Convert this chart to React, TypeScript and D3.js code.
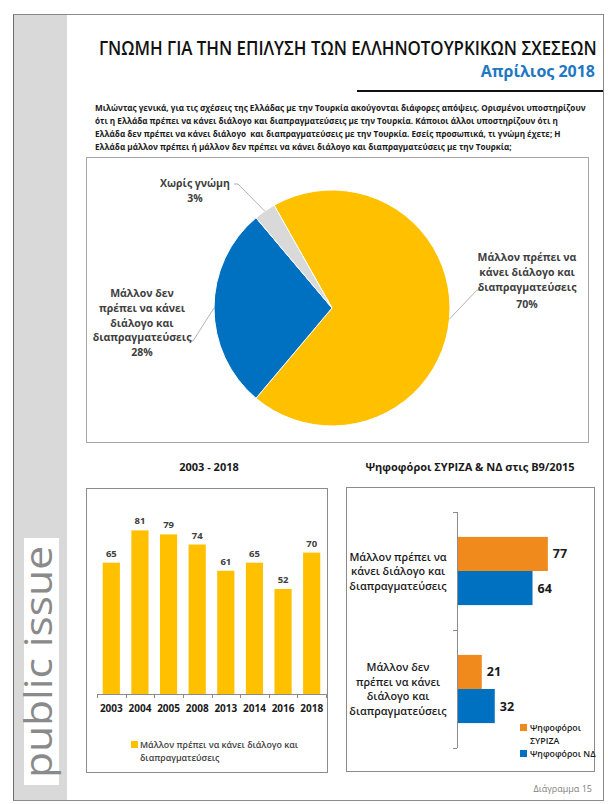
import React from 'react';
import * as d3 from 'd3';

// ---------- DATA ----------
const titleText = 'ΓΝΩΜΗ ΓΙΑ ΤΗΝ ΕΠΙΛΥΣΗ ΤΩΝ ΕΛΛΗΝΟΤΟΥΡΚΙΚΩΝ ΣΧΕΣΕΩΝ';
const subtitleText = 'Απρίλιος 2018';
const questionLines = [
  'Μιλώντας γενικά, για τις σχέσεις της Ελλάδας με την Τουρκία ακούγονται διάφορες απόψεις. Ορισμένοι υποστηρίζουν',
  'ότι η Ελλάδα πρέπει να κάνει διάλογο και διαπραγματεύσεις με την Τουρκία. Κάποιοι άλλοι υποστηρίζουν ότι η',
  'Ελλάδα δεν πρέπει να κάνει διάλογο  και διαπραγματεύσεις με την Τουρκία. Εσείς προσωπικά, τι γνώμη έχετε; Η',
  'Ελλάδα μάλλον πρέπει ή μάλλον δεν πρέπει να κάνει διάλογο και διαπραγματεύσεις με την Τουρκία;',
];

const pieCategories = ['Μάλλον πρέπει', 'Μάλλον δεν πρέπει', 'Χωρίς γνώμη'];
const pieValues = [70, 28, 3];
const pieLabelLines = [
  ['Μάλλον πρέπει να', 'κάνει διάλογο και', 'διαπραγματεύσεις'],
  ['Μάλλον δεν', 'πρέπει να κάνει', 'διάλογο και', 'διαπραγματεύσεις'],
  ['Χωρίς γνώμη'],
];
const pieColors = ['#ffc000', '#0070c0', '#d9d9d9'];

const trendTitle = '2003 - 2018';
const trendYears = ['2003', '2004', '2005', '2008', '2013', '2014', '2016', '2018'];
const trendValues = [65, 81, 79, 74, 61, 65, 52, 70];
const trendLegendLines = ['Μάλλον πρέπει να κάνει διάλογο και', 'διαπραγματεύσεις'];

const voterTitle = 'Ψηφοφόροι ΣΥΡΙΖΑ & ΝΔ στις Β9/2015';
const voterCategories = ['prepei', 'denprepei'];
const voterCategoryLines = [
  ['Μάλλον πρέπει να', 'κάνει διάλογο και', 'διαπραγματεύσεις'],
  ['Μάλλον δεν', 'πρέπει να κάνει', 'διάλογο και', 'διαπραγματεύσεις'],
];
const voterSeries = ['ΣΥΡΙΖΑ', 'ΝΔ'];
const syrizaValues = [77, 21];
const ndValues = [64, 32];
const voterLegendLines = [['Ψηφοφόροι', 'ΣΥΡΙΖΑ'], ['Ψηφοφόροι ΝΔ']];
const voterColors = ['#f08a1c', '#0070c0'];

const footerText = 'Διάγραμμα 15';
const brandText = 'public issue';

// ---------- HELPERS ----------
const FONT = "'Open Sans', 'Noto Sans', 'DejaVu Sans', sans-serif";
let _ctx: CanvasRenderingContext2D | null = null;
function measure(text: string, weight: number, size: number): number {
  try {
    if (!_ctx) _ctx = document.createElement('canvas').getContext('2d');
    if (!_ctx) return text.length * size * 0.55;
    _ctx.font = `${weight} ${size}px 'Open Sans'`;
    return _ctx.measureText(text).width;
  } catch (e) {
    return text.length * size * 0.55;
  }
}

export default function App() {
  const W = 608;
  const H = 804;

  // ---- pie ----
  const pcx = 332, pcy = 308, pr = 118;
  const start = (-29.4 * Math.PI) / 180;
  const pieGen = d3.pie<number>().sort(null).value((d) => d).startAngle(start).endAngle(start + 2 * Math.PI);
  const arcs = pieGen(pieValues);
  const arcGen = d3.arc<d3.PieArcDatum<number>>().innerRadius(0).outerRadius(pr);
  const onArc = (a: d3.PieArcDatum<number>) => {
    const m = (a.startAngle + a.endAngle) / 2;
    return [pcx + pr * Math.sin(m), pcy - pr * Math.cos(m)];
  };
  const labelFont = 10.5;
  const pieLabelPos = [
    { x: 527, y: 261, knee: [477, 290], end: [481, 290] },
    { x: 142, y: 297, knee: [193, 341], end: [188, 341] },
    { x: 195, y: 187, knee: [238, 184], end: [234, 184] },
  ];

  // ---- trend bars ----
  const xT = d3.scaleBand<string>().domain(trendYears).range([97, 326]).paddingInner(0.4).paddingOuter(0.2);
  const yT = d3.scaleLinear().domain([0, 100]).range([694, 492]);
  const stepT = xT.step();
  const tickXs = trendYears.map((y) => (xT(y) as number) - stepT * 0.2).concat([326]);

  // ---- voter bars ----
  const yV = d3.scaleBand<string>().domain(voterCategories).range([512, 748]).padding(0);
  const yS = d3.scaleBand<string>().domain(voterSeries).range([0, yV.bandwidth()]).paddingInner(0).paddingOuter(0.73);
  const xV = d3.scaleLinear().domain([0, 100]).range([457, 575]);
  const voterData = voterCategories.map((c, i) => ({ c, vals: [syrizaValues[i], ndValues[i]] }));

  // text fitting
  const qWeight = 700, qSize = 9.3;
  const qk = 491 / measure(questionLines[0], qWeight, qSize);
  const tWeight = 600, tSize = 20;
  const tk = 498 / measure(titleText, tWeight, tSize);

  const gray = '#404040';

  return (
    <svg width={W} height={H} viewBox={`0 0 ${W} ${H}`} style={{ position: 'absolute', left: 0, top: 0, fontFamily: FONT }}>
      <rect x={0} y={0} width={W} height={H} fill="#ffffff" />
      {/* page frame */}
      <rect x={13.5} y={14.5} width={590} height={786} fill="#ffffff" stroke="#8a8a8a" strokeWidth={1} />
      <rect x={14} y={15} width={53} height={785} fill="#d9d9d9" />
      <line x1={13.5} y1={14.5} x2={13.5} y2={800.5} stroke="#6e6e6e" strokeWidth={1} />
      {/* brand */}
      <rect x={24} y={538} width={35} height={247} fill="#ffffff" />
      <text
        transform="translate(52,662) rotate(-90)"
        textAnchor="middle"
        fontSize={38}
        fill="#8a8a8a"
        textLength={232}
        lengthAdjust="spacingAndGlyphs"
      >
        {brandText}
      </text>

      {/* title */}
      <g transform={`translate(99,55) scale(${tk},1)`}>
        <text x={0} y={0} fontSize={tSize} fontWeight={tWeight} fill="#111">
          {titleText}
        </text>
      </g>
      <text x={595} y={77} textAnchor="end" fontSize={16} fontWeight={700} fill="#1f78c4">
        {subtitleText}
      </text>
      <line x1={357} y1={91} x2={603} y2={91} stroke="#111" strokeWidth={2} />

      {/* question */}
      {questionLines.map((l, i) => (
        <g key={i} transform={`translate(95,${111 + i * 13}) scale(${qk},1)`}>
          <text x={0} y={0} fontSize={qSize} fontWeight={qWeight} fill="#1a1a1a" style={{ whiteSpace: 'pre' }}>
            {l}
          </text>
        </g>
      ))}

      {/* pie box */}
      <rect x={86.5} y={157.5} width={502} height={285} fill="#ffffff" stroke="#a6a6a6" strokeWidth={1} />
      <g>
        {arcs.map((a, i) => (
          <path key={i} d={arcGen(a) as string} transform={`translate(${pcx},${pcy})`} fill={pieColors[i]} stroke="#ffffff" strokeWidth={1} />
        ))}
        {arcs.map((a, i) => {
          const p = onArc(a);
          const L = pieLabelPos[i];
          return (
            <polyline
              key={'l' + i}
              points={`${p[0]},${p[1]} ${L.knee[0]},${L.knee[1]} ${L.end[0]},${L.end[1]}`}
              fill="none"
              stroke="#a0a0a0"
              strokeWidth={0.8}
            />
          );
        })}
        {pieLabelLines.map((lines, i) => {
          const L = pieLabelPos[i];
          const pct = `${pieValues[i]}%`;
          return (
            <g key={'t' + i} fontSize={labelFont} fontWeight={700} fill={gray} textAnchor="middle">
              {lines.map((ln, j) => (
                <text key={j} x={L.x} y={L.y + j * 14.8}>
                  {ln}
                </text>
              ))}
              <text x={L.x} y={L.y + lines.length * 14.8 + (i === 0 ? 3 : 0)}>{pct}</text>
            </g>
          );
        })}
      </g>

      {/* trend chart */}
      <text x={209} y={471} textAnchor="middle" fontSize={11} fontWeight={700} fill="#1a1a1a">
        {trendTitle}
      </text>
      <rect x={86.5} y={488.5} width={241} height={284} fill="#ffffff" stroke="#8c8c8c" strokeWidth={1} />
      {trendYears.map((yr, i) => (
        <g key={yr}>
          <rect x={xT(yr)} y={yT(trendValues[i])} width={xT.bandwidth()} height={yT(0) - yT(trendValues[i])} fill="#ffc000" />
          <text x={(xT(yr) as number) + xT.bandwidth() / 2} y={yT(trendValues[i]) - 6} textAnchor="middle" fontSize={9.5} fontWeight={700} fill={gray}>
            {trendValues[i]}
          </text>
          <text x={(xT(yr) as number) + xT.bandwidth() / 2} y={712} textAnchor="middle" fontSize={10} fontWeight={700} fill="#1a1a1a">
            {yr}
          </text>
        </g>
      ))}
      <line x1={97} y1={694.5} x2={326} y2={694.5} stroke="#8c8c8c" strokeWidth={1} />
      {tickXs.map((tx, i) => (
        <line key={i} x1={Math.round(tx) + 0.5} y1={694} x2={Math.round(tx) + 0.5} y2={698} stroke="#8c8c8c" strokeWidth={1} />
      ))}
      <rect x={131} y={741} width={7} height={7} fill="#ffc000" />
      {trendLegendLines.map((l, i) => (
        <text key={i} x={140} y={748 + i * 13} fontSize={8.8} fontWeight={600} fill={gray}>
          {l}
        </text>
      ))}

      {/* voter chart */}
      <text x={470} y={471} textAnchor="middle" fontSize={11} fontWeight={700} fill="#1a1a1a">
        {voterTitle}
      </text>
      <rect x={346.5} y={487.5} width={248} height={284} fill="#ffffff" stroke="#8c8c8c" strokeWidth={1} />
      {voterData.map((d, ci) => {
        const by = yV(d.c) as number;
        return (
          <g key={d.c}>
            {d.vals.map((v, si) => {
              const s = voterSeries[si];
              const y0 = by + (yS(s) as number);
              return (
                <g key={s}>
                  <rect x={xV(0)} y={y0} width={xV(v) - xV(0)} height={yS.bandwidth()} fill={voterColors[si]} />
                  <text x={xV(v) + 5} y={y0 + yS.bandwidth() / 2 + 4.5} fontSize={12.5} fontWeight={700} fill="#1a1a1a">
                    {v}
                  </text>
                </g>
              );
            })}
            {voterCategoryLines[ci].map((ln, j) => {
              const n = voterCategoryLines[ci].length;
              const cy = by + yV.bandwidth() / 2;
              return (
                <text key={j} x={398} y={cy + (j - (n - 1) / 2) * 14.5 + 4} textAnchor="middle" fontSize={10.8} fontWeight={600} fill="#1a1a1a">
                  {ln}
                </text>
              );
            })}
          </g>
        );
      })}
      <line x1={457.5} y1={512} x2={457.5} y2={748} stroke="#8c8c8c" strokeWidth={1} />
      {[512, 630, 748].map((t) => (
        <line key={t} x1={453} y1={t + 0.5} x2={457} y2={t + 0.5} stroke="#8c8c8c" strokeWidth={1} />
      ))}
      {voterLegendLines.map((lines, i) => (
        <g key={i}>
          <rect x={520} y={i === 0 ? 724 : 750} width={7} height={7} fill={voterColors[i]} />
          {lines.map((ln, j) => (
            <text key={j} x={530} y={(i === 0 ? 731 : 757) + j * 13} fontSize={8.8} fontWeight={600} fill="#1a1a1a">
              {ln}
            </text>
          ))}
        </g>
      ))}

      {/* footer */}
      <text x={592} y={792} textAnchor="end" fontSize={9} fill="#808080">
        {footerText}
      </text>
    </svg>
  );
}
